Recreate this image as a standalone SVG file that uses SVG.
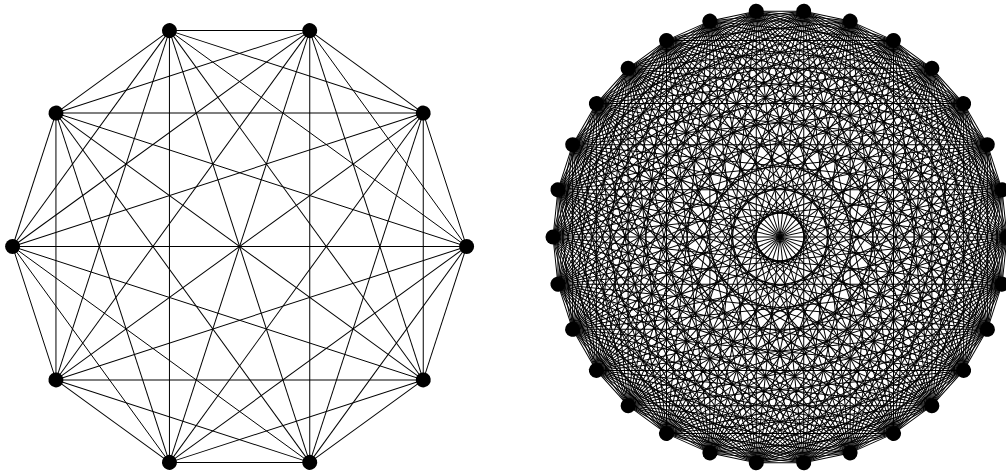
<svg xmlns="http://www.w3.org/2000/svg" width="1006" height="472" viewBox="0 0 1006 472">
<style>
.e{stroke:#000;stroke-width:1;fill:none}
.n{fill:#000;stroke:none}
</style>
<defs>
<g id="fanA" class="e">
<line x1="466.6" y1="246.5" x2="423.25" y2="113.07"/>
<line x1="466.6" y1="246.5" x2="309.75" y2="30.61"/>
<line x1="466.6" y1="246.5" x2="169.45" y2="30.61"/>
<line x1="466.6" y1="246.5" x2="55.95" y2="113.07"/>
</g>
<line id="diaA" class="e" x1="466.6" y1="246.5" x2="12.6" y2="246.5"/>
<g id="fanB" class="e">
<line x1="1007" y1="237" x2="1002.04" y2="189.80"/>
<line x1="1007" y1="237" x2="987.38" y2="144.67"/>
<line x1="1007" y1="237" x2="963.65" y2="103.57"/>
<line x1="1007" y1="237" x2="931.89" y2="68.31"/>
<line x1="1007" y1="237" x2="893.5" y2="40.41"/>
<line x1="1007" y1="237" x2="850.15" y2="21.11"/>
<line x1="1007" y1="237" x2="803.73" y2="11.24"/>
<line x1="1007" y1="237" x2="756.27" y2="11.24"/>
<line x1="1007" y1="237" x2="709.85" y2="21.11"/>
<line x1="1007" y1="237" x2="666.5" y2="40.41"/>
<line x1="1007" y1="237" x2="628.11" y2="68.31"/>
<line x1="1007" y1="237" x2="596.35" y2="103.57"/>
<line x1="1007" y1="237" x2="572.62" y2="144.67"/>
<line x1="1007" y1="237" x2="557.96" y2="189.80"/>
</g>
<line id="diaB" class="e" x1="1007" y1="237" x2="553" y2="237"/>
<circle id="dotA" class="n" cx="466.6" cy="246.5" r="7.5"/>
<circle id="dotB" class="n" cx="1007" cy="237" r="7.5"/>
</defs>
<g id="connectors">
<use href="#fanA"/>
<use href="#fanA" transform="rotate(-36 239.6 246.5)"/>
<use href="#fanA" transform="rotate(-72 239.6 246.5)"/>
<use href="#fanA" transform="rotate(-108 239.6 246.5)"/>
<use href="#fanA" transform="rotate(-144 239.6 246.5)"/>
<use href="#fanA" transform="rotate(-180 239.6 246.5)"/>
<use href="#fanA" transform="rotate(-216 239.6 246.5)"/>
<use href="#fanA" transform="rotate(-252 239.6 246.5)"/>
<use href="#fanA" transform="rotate(-288 239.6 246.5)"/>
<use href="#fanA" transform="rotate(-324 239.6 246.5)"/>
<use href="#diaA"/>
<use href="#diaA" transform="rotate(-36 239.6 246.5)"/>
<use href="#diaA" transform="rotate(-72 239.6 246.5)"/>
<use href="#diaA" transform="rotate(-108 239.6 246.5)"/>
<use href="#diaA" transform="rotate(-144 239.6 246.5)"/>
<use href="#fanB"/>
<use href="#fanB" transform="rotate(-12 780 237)"/>
<use href="#fanB" transform="rotate(-24 780 237)"/>
<use href="#fanB" transform="rotate(-36 780 237)"/>
<use href="#fanB" transform="rotate(-48 780 237)"/>
<use href="#fanB" transform="rotate(-60 780 237)"/>
<use href="#fanB" transform="rotate(-72 780 237)"/>
<use href="#fanB" transform="rotate(-84 780 237)"/>
<use href="#fanB" transform="rotate(-96 780 237)"/>
<use href="#fanB" transform="rotate(-108 780 237)"/>
<use href="#fanB" transform="rotate(-120 780 237)"/>
<use href="#fanB" transform="rotate(-132 780 237)"/>
<use href="#fanB" transform="rotate(-144 780 237)"/>
<use href="#fanB" transform="rotate(-156 780 237)"/>
<use href="#fanB" transform="rotate(-168 780 237)"/>
<use href="#fanB" transform="rotate(-180 780 237)"/>
<use href="#fanB" transform="rotate(-192 780 237)"/>
<use href="#fanB" transform="rotate(-204 780 237)"/>
<use href="#fanB" transform="rotate(-216 780 237)"/>
<use href="#fanB" transform="rotate(-228 780 237)"/>
<use href="#fanB" transform="rotate(-240 780 237)"/>
<use href="#fanB" transform="rotate(-252 780 237)"/>
<use href="#fanB" transform="rotate(-264 780 237)"/>
<use href="#fanB" transform="rotate(-276 780 237)"/>
<use href="#fanB" transform="rotate(-288 780 237)"/>
<use href="#fanB" transform="rotate(-300 780 237)"/>
<use href="#fanB" transform="rotate(-312 780 237)"/>
<use href="#fanB" transform="rotate(-324 780 237)"/>
<use href="#fanB" transform="rotate(-336 780 237)"/>
<use href="#fanB" transform="rotate(-348 780 237)"/>
<use href="#diaB"/>
<use href="#diaB" transform="rotate(-12 780 237)"/>
<use href="#diaB" transform="rotate(-24 780 237)"/>
<use href="#diaB" transform="rotate(-36 780 237)"/>
<use href="#diaB" transform="rotate(-48 780 237)"/>
<use href="#diaB" transform="rotate(-60 780 237)"/>
<use href="#diaB" transform="rotate(-72 780 237)"/>
<use href="#diaB" transform="rotate(-84 780 237)"/>
<use href="#diaB" transform="rotate(-96 780 237)"/>
<use href="#diaB" transform="rotate(-108 780 237)"/>
<use href="#diaB" transform="rotate(-120 780 237)"/>
<use href="#diaB" transform="rotate(-132 780 237)"/>
<use href="#diaB" transform="rotate(-144 780 237)"/>
<use href="#diaB" transform="rotate(-156 780 237)"/>
<use href="#diaB" transform="rotate(-168 780 237)"/>
</g>
<g id="k10-nodes">
<g id="a0"><use href="#dotA"/></g>
<g id="a1"><use href="#dotA" transform="rotate(-36 239.6 246.5)"/></g>
<g id="a2"><use href="#dotA" transform="rotate(-72 239.6 246.5)"/></g>
<g id="a3"><use href="#dotA" transform="rotate(-108 239.6 246.5)"/></g>
<g id="a4"><use href="#dotA" transform="rotate(-144 239.6 246.5)"/></g>
<g id="a5"><use href="#dotA" transform="rotate(-180 239.6 246.5)"/></g>
<g id="a6"><use href="#dotA" transform="rotate(-216 239.6 246.5)"/></g>
<g id="a7"><use href="#dotA" transform="rotate(-252 239.6 246.5)"/></g>
<g id="a8"><use href="#dotA" transform="rotate(-288 239.6 246.5)"/></g>
<g id="a9"><use href="#dotA" transform="rotate(-324 239.6 246.5)"/></g>
</g>
<g id="k30-nodes">
<g id="b0"><use href="#dotB"/></g>
<g id="b1"><use href="#dotB" transform="rotate(-12 780 237)"/></g>
<g id="b2"><use href="#dotB" transform="rotate(-24 780 237)"/></g>
<g id="b3"><use href="#dotB" transform="rotate(-36 780 237)"/></g>
<g id="b4"><use href="#dotB" transform="rotate(-48 780 237)"/></g>
<g id="b5"><use href="#dotB" transform="rotate(-60 780 237)"/></g>
<g id="b6"><use href="#dotB" transform="rotate(-72 780 237)"/></g>
<g id="b7"><use href="#dotB" transform="rotate(-84 780 237)"/></g>
<g id="b8"><use href="#dotB" transform="rotate(-96 780 237)"/></g>
<g id="b9"><use href="#dotB" transform="rotate(-108 780 237)"/></g>
<g id="b10"><use href="#dotB" transform="rotate(-120 780 237)"/></g>
<g id="b11"><use href="#dotB" transform="rotate(-132 780 237)"/></g>
<g id="b12"><use href="#dotB" transform="rotate(-144 780 237)"/></g>
<g id="b13"><use href="#dotB" transform="rotate(-156 780 237)"/></g>
<g id="b14"><use href="#dotB" transform="rotate(-168 780 237)"/></g>
<g id="b15"><use href="#dotB" transform="rotate(-180 780 237)"/></g>
<g id="b16"><use href="#dotB" transform="rotate(-192 780 237)"/></g>
<g id="b17"><use href="#dotB" transform="rotate(-204 780 237)"/></g>
<g id="b18"><use href="#dotB" transform="rotate(-216 780 237)"/></g>
<g id="b19"><use href="#dotB" transform="rotate(-228 780 237)"/></g>
<g id="b20"><use href="#dotB" transform="rotate(-240 780 237)"/></g>
<g id="b21"><use href="#dotB" transform="rotate(-252 780 237)"/></g>
<g id="b22"><use href="#dotB" transform="rotate(-264 780 237)"/></g>
<g id="b23"><use href="#dotB" transform="rotate(-276 780 237)"/></g>
<g id="b24"><use href="#dotB" transform="rotate(-288 780 237)"/></g>
<g id="b25"><use href="#dotB" transform="rotate(-300 780 237)"/></g>
<g id="b26"><use href="#dotB" transform="rotate(-312 780 237)"/></g>
<g id="b27"><use href="#dotB" transform="rotate(-324 780 237)"/></g>
<g id="b28"><use href="#dotB" transform="rotate(-336 780 237)"/></g>
<g id="b29"><use href="#dotB" transform="rotate(-348 780 237)"/></g>
</g>
</svg>
